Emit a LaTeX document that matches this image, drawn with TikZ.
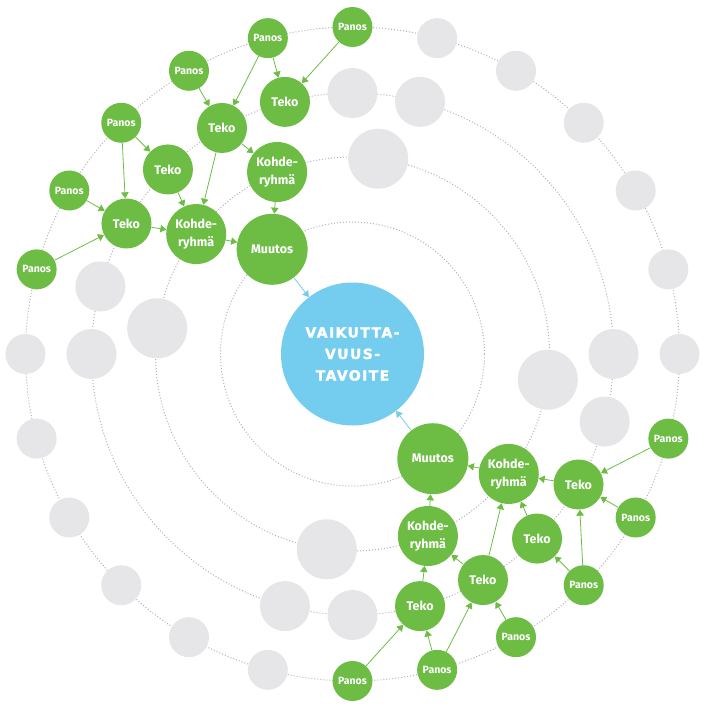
\documentclass[tikz,border=0pt]{standalone}
\usepackage{fontspec}
\setmainfont{Fira Sans}
\newfontfamily\goalfont{DejaVu Sans Bold}[LetterSpace=10, FakeBold=2]
\usetikzlibrary{arrows.meta}
\definecolor{grn}{RGB}{109,189,69}
\definecolor{sky}{RGB}{116,205,238}
\definecolor{gry}{RGB}{230,230,232}
\definecolor{dotc}{RGB}{184,172,192}
\begin{document}
\begin{tikzpicture}[x=1pt,y=1pt,
  ring/.style={draw=dotc, line width=1pt, dash pattern=on 1pt off 2pt},
  gnode/.style={circle, fill=grn, text=white, inner sep=0pt, align=center,
    font=\bfseries\fontsize{12.5}{18}\selectfont},
  panos/.style={gnode, minimum size=40pt, font=\bfseries\fontsize{10.5}{12}\selectfont},
  teko/.style={gnode, minimum size=50pt},
  kohde/.style={gnode, minimum size=60pt},
  muutos/.style={gnode, minimum size=71pt},
  greyA/.style={circle, fill=gry, inner sep=0pt, minimum size=40pt},
  greyB/.style={circle, fill=gry, inner sep=0pt, minimum size=50pt},
  greyC/.style={circle, fill=gry, inner sep=0pt, minimum size=60pt},
  goalnode/.style={circle, fill=sky, text=white, inner sep=0pt, minimum size=143pt, align=center,
    font=\goalfont\fontsize{14}{21.5}\selectfont},
  arr/.style={draw=grn, line width=0.8pt, -{Triangle[length=6pt,width=7.5pt]}},
  barr/.style={draw=sky, line width=0.8pt, -{Triangle[length=6pt,width=7.5pt]}}
]
\useasboundingbox (-352.5,-359) rectangle (359.5,354);
% dotted rings
\foreach \r in {132,197,261,327} \draw[ring] (0,0) circle[radius=\r pt];
% goal
\node[goalnode] (goal) at (0,0) {VAIKUTTA-\\VUUS-\\TAVOITE};
% grey placeholders
\foreach \a in {0,15,30,45,60,75,180,195,210,225,240,255}
  \node[greyA] (g4-\a) at (\a:327pt) {};
\foreach \a in {75,90,165,180,255,270,345,0}
  \node[greyB] (g3-\a) at (\a:261pt) {};
\foreach \a in {82.5,172.5,262.5,352.5}
  \node[greyC] (g2-\a) at (\a:197pt) {};
% Panos nodes
\foreach \a in {90,105,120,135,150,165,270,285,300,315,330,345}
  \node[panos] (p\a) at (\a:327pt) {Panos};
% Teko nodes
\foreach \a in {105,120,135,150,285,300,315,330}
  \node[teko] (t\a) at (\a:261pt) {Teko};
% Kohderyhma nodes
\node[kohde] (k112) at (112.5:197pt) {Kohde-\\ryhmä};
\node[kohde] (k142) at (142.5:197pt) {Kohde-\\ryhmä};
\node[kohde] (k292) at (292.5:197pt) {Kohde-\\ryhmä};
\node[kohde] (k322) at (322.5:197pt) {Kohde-\\ryhmä};
% Muutos nodes
\node[muutos] (m127) at (127.5:132pt) {Muutos};
\node[muutos] (m307) at (307.5:132pt) {Muutos};
% NW connectors
\draw[arr] (p90) -- (t105);
\draw[arr] (p105) -- (t105);
\draw[arr] (p105) -- (t120);
\draw[arr] (p120) -- (t120);
\draw[arr] (p135) -- (t135);
\draw[arr] (p135) -- (t150);
\draw[arr] (p150) -- (t150);
\draw[arr] (p165) -- (t150);
\draw[arr] (t150) -- (k142);
\draw[arr] (t135) -- (k142);
\draw[arr] (t120) -- (k142);
\draw[arr] (t120) -- (k112);
\draw[arr] (k142) -- (m127);
\draw[arr] (k112) -- (m127);
\draw[barr] (m127) -- (goal);
% SE connectors
\draw[arr] (p345) -- (t330);
\draw[arr] (p330) -- (t330);
\draw[arr] (p315) -- (t330);
\draw[arr] (p315) -- (t315);
\draw[arr] (p300) -- (t300);
\draw[arr] (p285) -- (t300);
\draw[arr] (p285) -- (t285);
\draw[arr] (p270) -- (t285);
\draw[arr] (t285) -- (k292);
\draw[arr] (t300) -- (k292);
\draw[arr] (t300) -- (k322);
\draw[arr] (t315) -- (k322);
\draw[arr] (t330) -- (k322);
\draw[arr] (k322) -- (m307);
\draw[arr] (k292) -- (m307);
\draw[barr] (m307) -- (goal);
\end{tikzpicture}
\end{document}
